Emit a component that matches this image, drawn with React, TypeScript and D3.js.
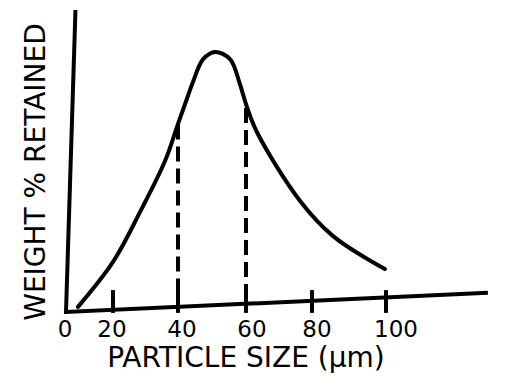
import React from "react";
import * as d3 from "d3";

// particle size (µm) vs weight % retained
const sizes = [5.1, 20, 28.3, 36, 40, 42.6, 44.4, 47.4, 50.9, 55.3, 58.2, 60, 63.3, 76.4, 85.7, 99.7];
const weights = [1.7, 16.7, 33.3, 50.3, 62.7, 71, 76.7, 84.3, 86.7, 84.3, 76, 69.3, 60, 37, 25.3, 14.3];

const tickValues = [0, 20, 40, 60, 80, 100];
const tickLabels = ["0", "20", "40", "60", "80", "100"];
const dashedSizes = [40, 60];
const dashedTops = [62.5, 68];

// hand drawn axes are slightly tilted
const xAxisEnd = [127, 6.4];
const yAxisEnd = [4, 100];

const W = 512;
const H = 385;
const font = "DejaVu Sans";

export default function App() {
  // the sketch spacing is uneven, so the scale is piecewise
  const x = d3
    .scaleLinear()
    .domain([0, 20, 40, 60, 80, 100])
    .range([66, 113, 178, 246, 312, 386]);
  const y = d3.scaleLinear().domain([0, 100]).range([312, 12]);

  const pts: [number, number][] = sizes.map((s, i) => [s, weights[i]]);
  const line = d3
    .line<[number, number]>()
    .x((d) => x(d[0]))
    .y((d) => y(d[1]))
    .curve(d3.curveCatmullRom.alpha(0.5));

  // height of the tilted x axis at a given size
  const axisAt = (s: number) => (s / xAxisEnd[0]) * xAxisEnd[1];
  const labelShift = [-1, -1, 4, 6, 5, 10];

  return (
    <svg
      width={W}
      height={H}
      style={{ position: "absolute", left: 0, top: 0, background: "#fff" }}
      fontFamily={font}
    >
      {/* axes */}
      <line x1={x(0)} y1={y(0)} x2={x(xAxisEnd[0])} y2={y(xAxisEnd[1])} stroke="#000" strokeWidth={4} strokeLinecap="square" />
      <line x1={x(0)} y1={y(0)} x2={x(yAxisEnd[0])} y2={y(yAxisEnd[1])} stroke="#000" strokeWidth={4} strokeLinecap="square" />

      {/* ticks */}
      {tickValues.slice(1).map((t) => (
        <line key={t} x1={x(t)} x2={x(t)} y1={y(-0.3)} y2={y(7.3)} stroke="#000" strokeWidth={4} />
      ))}

      {/* tick labels */}
      {tickValues.map((t, i) => (
        <text key={t} x={x(t) + labelShift[i]} y={337} fontSize={23} textAnchor="middle" fill="#000">
          {tickLabels[i]}
        </text>
      ))}

      {/* dashed markers */}
      {dashedSizes.map((s, i) => (
        <line
          key={s}
          x1={x(s)}
          x2={x(s)}
          y1={y(dashedTops[i])}
          y2={y(axisAt(s))}
          stroke="#000"
          strokeWidth={4}
          strokeDasharray="15 7"
        />
      ))}

      {/* distribution curve */}
      <path d={line(pts) ?? ""} fill="none" stroke="#000" strokeWidth={4} strokeLinecap="round" />

      <text x={246} y={367} fontSize={28} textAnchor="middle" fill="#000">
        PARTICLE SIZE (μm)
      </text>
      <text transform="translate(45,172) rotate(-90)" fontSize={28} textAnchor="middle" fill="#000">
        WEIGHT % RETAINED
      </text>
    </svg>
  );
}
